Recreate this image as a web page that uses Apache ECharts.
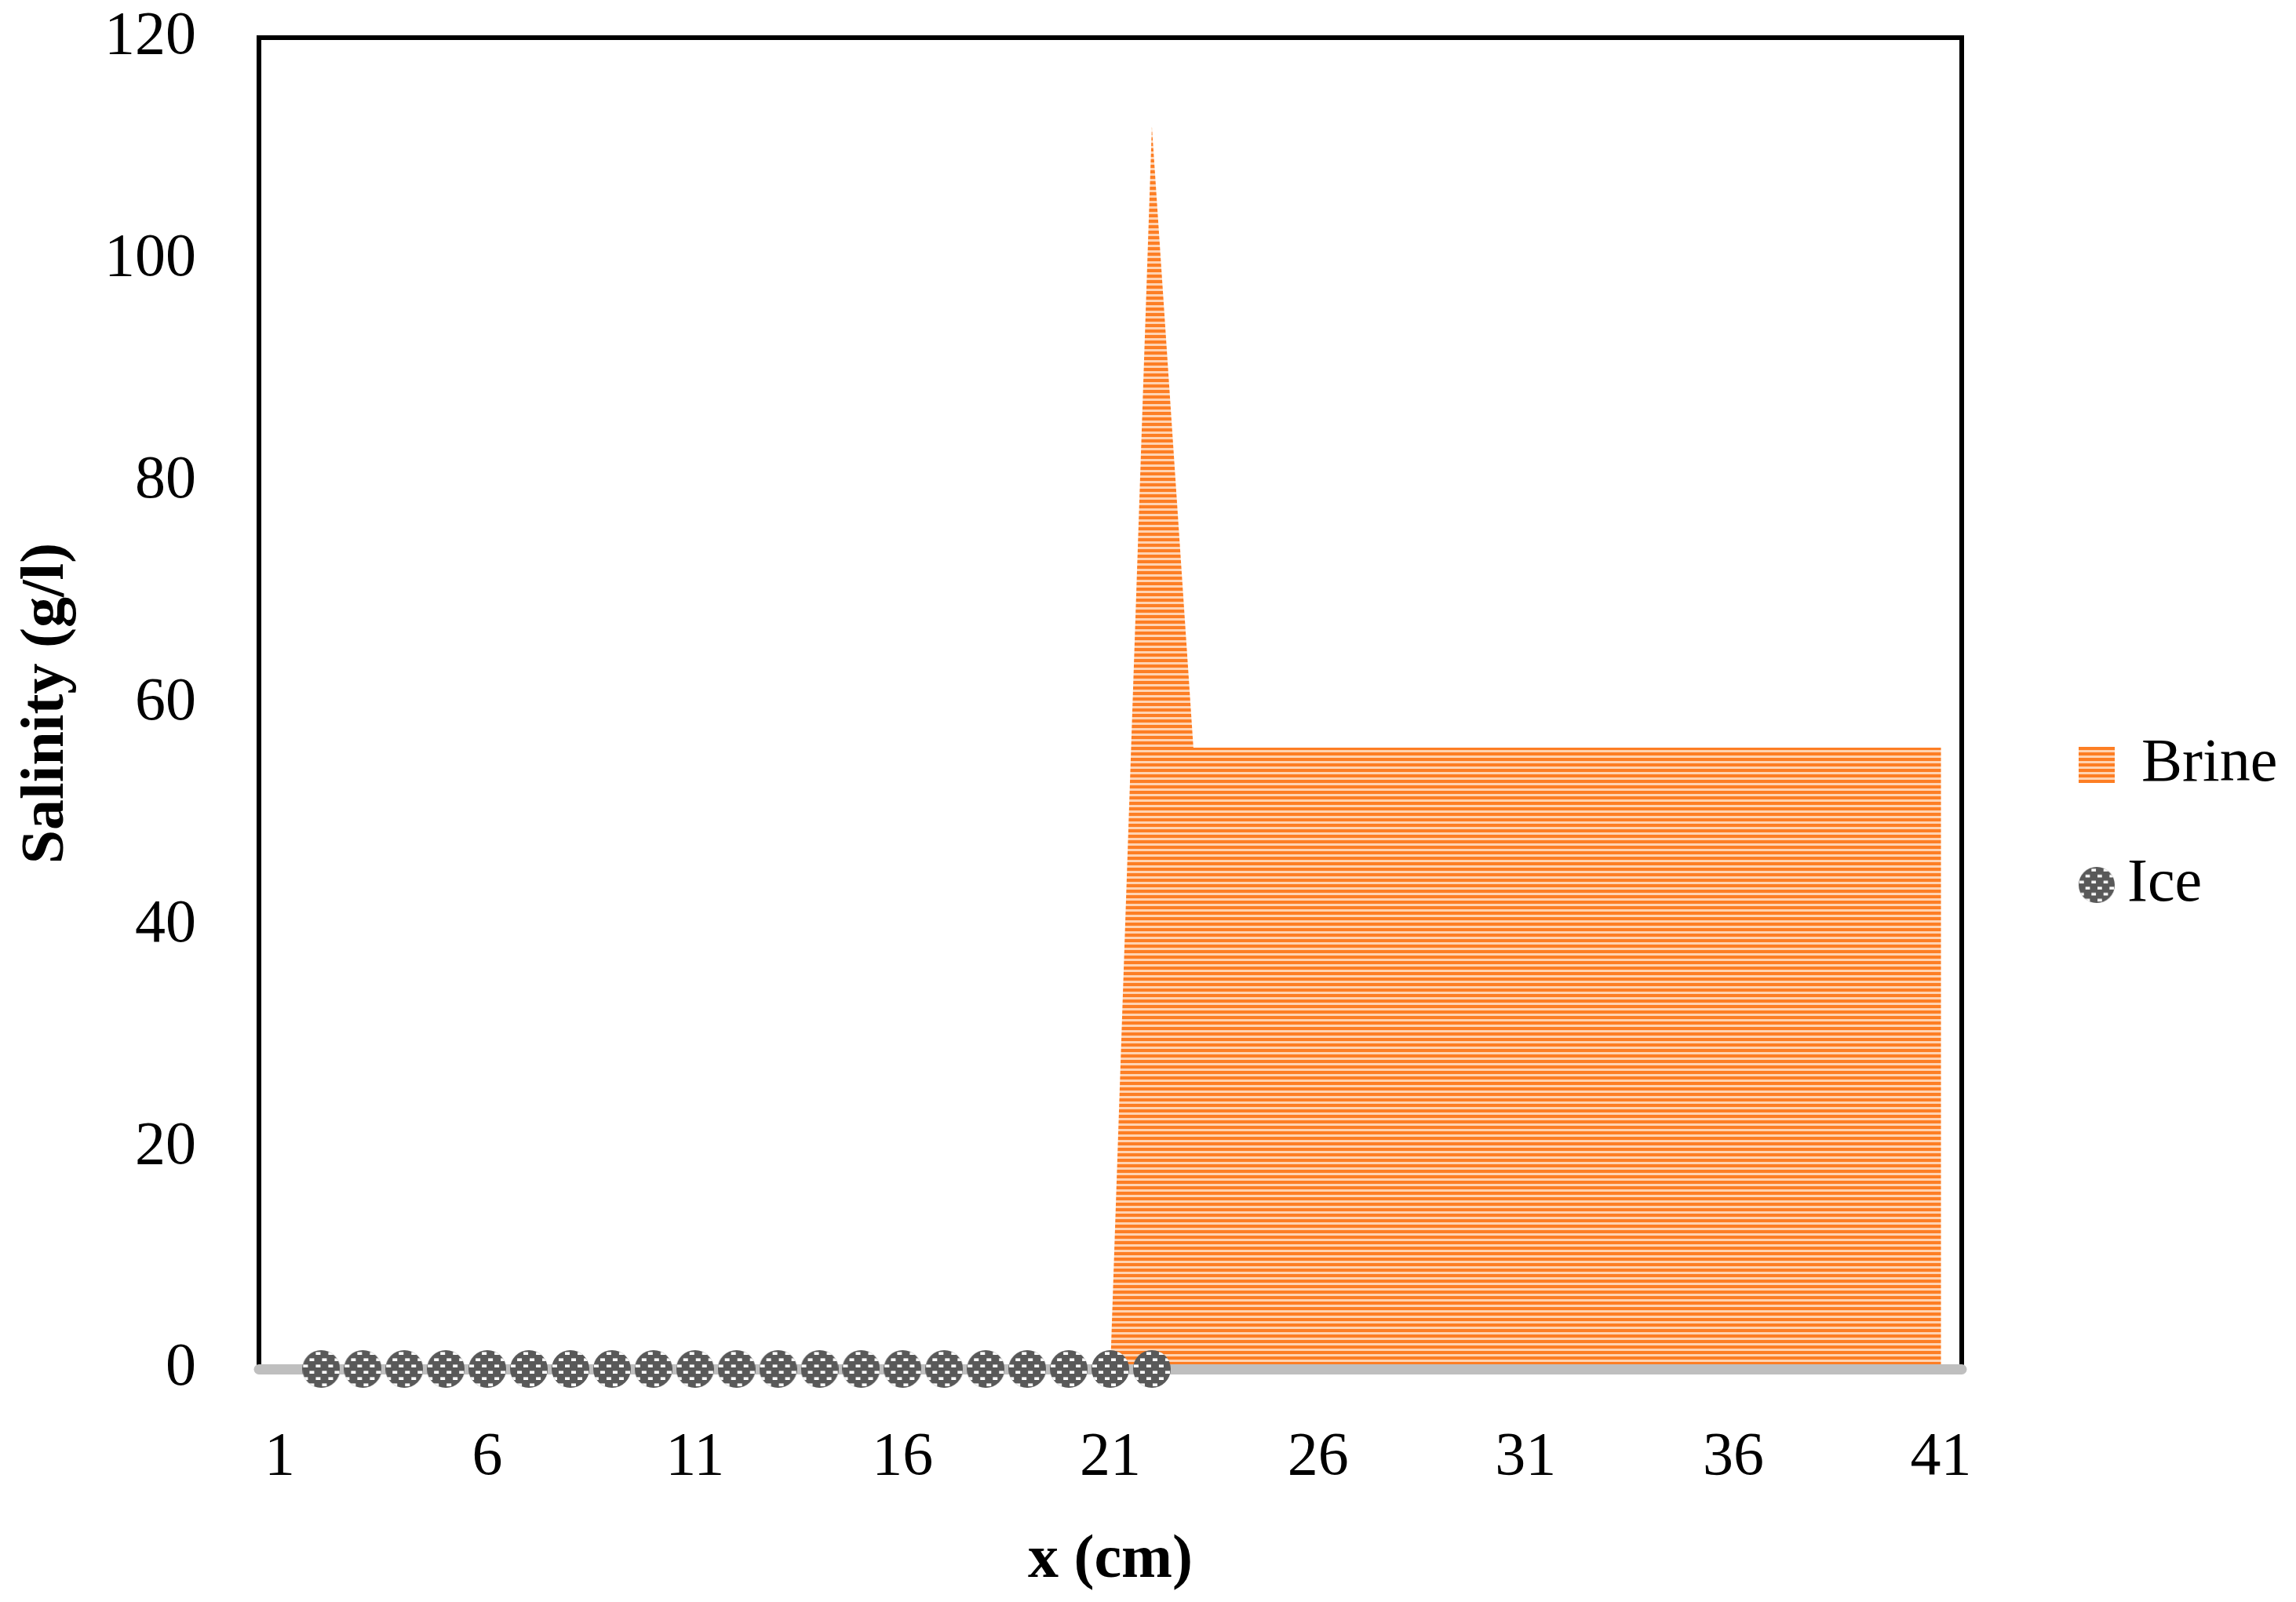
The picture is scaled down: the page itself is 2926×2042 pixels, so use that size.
<!DOCTYPE html>
<html>
<head>
<meta charset="utf-8">
<script src="https://cdn.jsdelivr.net/npm/echarts@6/dist/echarts.min.js"></script>
<style>
html,body{margin:0;padding:0;background:#fff;}
#chart{width:2926px;height:2042px;}
</style>
</head>
<body>
<div id="chart"></div>
<script>
// ---- data ----
const categories = Array.from({length: 41}, (_, i) => String(i + 1));
const brineValues = [
  null,null,null,null,null,null,null,null,null,null,
  null,null,null,null,null,null,null,null,null,null,
  0, 112,
  56,56,56,56,56,56,56,56,56,56,56,56,56,56,56,56,56,56,56
];
const iceValues = [
  null,
  0,0,0,0,0,0,0,0,0,0,0,0,0,0,0,0,0,0,0,0,0,
  null,null,null,null,null,null,null,null,null,null,
  null,null,null,null,null,null,null,null,null
];
const yTicks = [0, 20, 40, 60, 80, 100, 120];

// ---- patterns ----
function stripeCanvas() {
  const c = document.createElement('canvas');
  c.width = 8; c.height = 7;
  const ctx = c.getContext('2d');
  ctx.fillStyle = '#FFD3B2';
  ctx.fillRect(0, 0, 8, 7);
  ctx.fillStyle = '#FD7E24';
  ctx.fillRect(0, 0, 8, 4);
  return c;
}
function ballImage(size) {
  const c = document.createElement('canvas');
  c.width = size; c.height = size;
  const ctx = c.getContext('2d');
  ctx.beginPath();
  ctx.arc(size / 2, size / 2, size / 2, 0, Math.PI * 2);
  ctx.clip();
  ctx.fillStyle = '#595959';
  ctx.fillRect(0, 0, size, size);
  ctx.fillStyle = '#ffffff';
  const cell = size / 6;
  for (let r = 0; r < 6; r++) {
    for (let q = 0; q < 6; q++) {
      if ((r + q) % 2 === 0) {
        ctx.fillRect(q * cell + 1, r * cell + cell * 0.3, cell * 0.75, cell * 0.45);
      }
    }
  }
  return 'image://' + c.toDataURL();
}
const stripe = {image: stripeCanvas(), repeat: 'repeat'};
const ball = ballImage(48);

const FONT = 'Liberation Serif';
const chart = echarts.init(document.getElementById('chart'));
chart.setOption({
  backgroundColor: '#ffffff',
  animation: false,
  grid: {
    left: 330, right: 426, top: 48, bottom: 297,
    show: true, borderColor: '#000000', borderWidth: 6, backgroundColor: 'transparent'
  },
  legend: {
    orient: 'vertical',
    left: 2644, top: 930,
    itemWidth: 46, itemHeight: 46,
    itemGap: 73,
    textStyle: {fontFamily: FONT, fontSize: 78, color: '#000', lineHeight: 80},
    data: [
      {name: 'Brine', icon: 'rect', itemStyle: {color: stripe}, textStyle: {padding: [0,0,0,29]}},
      {name: 'Ice', icon: ball, textStyle: {padding: [0,0,0,11]}}
    ]
  },
  xAxis: {
    type: 'category',
    data: categories,
    boundaryGap: true,
    z: 3,
    axisLine: {show: true, lineStyle: {color: '#BFBFBF', width: 13}},
    axisTick: {show: false},
    splitLine: {show: false},
    axisLabel: {interval: 4, fontFamily: FONT, fontSize: 78, color: '#000', margin: 75},
    name: 'x (cm)',
    nameLocation: 'middle',
    nameGap: 206,
    nameTextStyle: {fontFamily: FONT, fontSize: 78, fontWeight: 'bold', color: '#000'}
  },
  yAxis: {
    type: 'value',
    min: 0, max: 120, interval: 20,
    axisLine: {show: false},
    axisTick: {show: false},
    splitLine: {show: false},
    axisLabel: {
      fontFamily: FONT, fontSize: 78, color: '#000', margin: 80,
      formatter: v => yTicks.includes(v) ? String(v) : ''
    },
    name: 'Salinity (g/l)',
    nameLocation: 'middle',
    nameGap: 231,
    nameTextStyle: {fontFamily: FONT, fontSize: 78, fontWeight: 'bold', color: '#000'}
  },
  series: [
    {
      name: 'Brine',
      type: 'line',
      data: brineValues,
      symbol: 'none',
      connectNulls: false,
      lineStyle: {width: 0, opacity: 0},
      itemStyle: {color: stripe},
      areaStyle: {color: stripe, opacity: 1, origin: 'start'},
      z: 2
    },
    {
      name: 'Ice',
      type: 'line',
      data: iceValues,
      symbol: ball,
      symbolSize: 48,
      showSymbol: true,
      showAllSymbol: true,
      lineStyle: {width: 0, opacity: 0},
      itemStyle: {color: '#595959', borderWidth: 0},
      clip: false,
      z: 5
    }
  ]
});
</script>
</body>
</html>
